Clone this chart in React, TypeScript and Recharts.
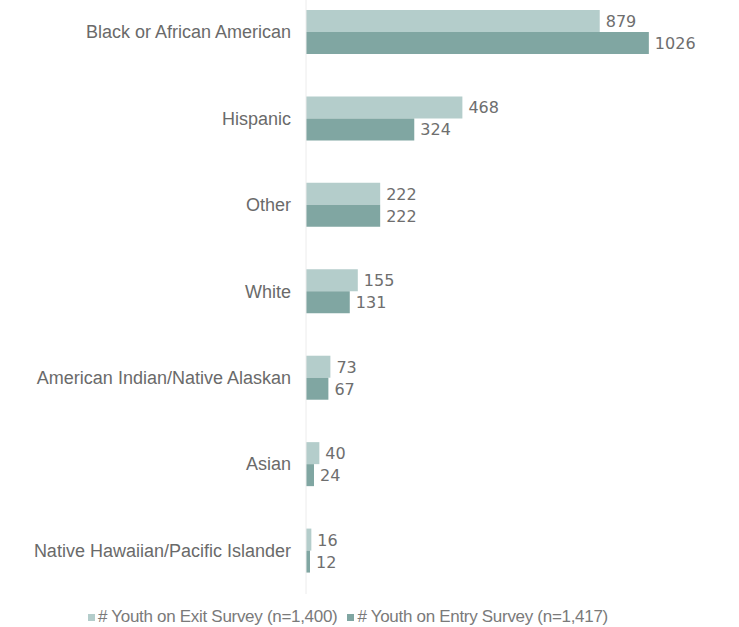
import React from "react";
import { BarChart, Bar, XAxis, YAxis, LabelList } from "recharts";

const CATEGORIES = [
  "Black or African American",
  "Hispanic",
  "Other",
  "White",
  "American Indian/Native Alaskan",
  "Asian",
  "Native Hawaiian/Pacific Islander",
];
const EXIT_VALUES = [879, 468, 222, 155, 73, 40, 16];
const ENTRY_VALUES = [1026, 324, 222, 131, 67, 24, 12];
const SERIES_NAMES = [
  "# Youth on Exit Survey (n=1,400)",
  "# Youth on Entry Survey (n=1,417)",
];

const EXIT_COLOR = "#b4cdcb";
const ENTRY_COLOR = "#80a6a2";
const LABEL_COLOR = "#6a6a6a";

const data = CATEGORIES.map((name, i) => ({
  name,
  exit: EXIT_VALUES[i],
  entry: ENTRY_VALUES[i],
}));

const CategoryTick = (props: any) => {
  const { x, y, payload } = props;
  return (
    <text
      x={x - 7}
      y={y}
      dy={6}
      textAnchor="end"
      fill={LABEL_COLOR}
      fontFamily="'Liberation Sans', Arial, sans-serif"
      fontSize={18}
    >
      {payload.value}
    </text>
  );
};

const ValueLabel = (props: any) => {
  const { x, y, width, height, value } = props;
  return (
    <text
      x={x + width + 6}
      y={y + height / 2}
      dy={6}
      textAnchor="start"
      fill="#6e6e6e"
      fontFamily="'DejaVu Sans', sans-serif"
      fontSize={16}
    >
      {value}
    </text>
  );
};

const ChartLegend = () => (
  <div
    style={{
      position: "absolute",
      left: 88,
      top: 607,
      display: "flex",
      alignItems: "center",
      gap: 10,
      fontFamily: "'Liberation Sans', Arial, sans-serif",
      fontSize: 17,
      letterSpacing: -0.3,
      color: "#7a7a7a",
      whiteSpace: "nowrap",
    }}
  >
    {SERIES_NAMES.map((s, i) => (
      <span key={s} style={{ display: "inline-flex", alignItems: "center" }}>
        <span
          style={{
            display: "inline-block",
            width: 7,
            height: 7,
            marginRight: 3,
            background: i === 0 ? EXIT_COLOR : ENTRY_COLOR,
          }}
        />
        {s}
      </span>
    ))}
  </div>
);

export default function App() {
  return (
    <div
      style={{
        position: "relative",
        width: 739,
        height: 627,
        background: "#fff",
        overflow: "hidden",
      }}
    >
      <style>{`body{margin:0;}`}</style>
      <BarChart
        width={739}
        height={627}
        layout="vertical"
        data={data}
        margin={{ top: -11, right: 32, left: 0, bottom: 33 }}
        barCategoryGap={21}
        barGap={0}
      >
        <XAxis type="number" domain={[0, 1200]} hide />
        <YAxis
          type="category"
          dataKey="name"
          width={306}
          tickLine={false}
          axisLine={{ stroke: "#ececec" }}
          interval={0}
          tick={<CategoryTick />}
        />
        <Bar dataKey="exit" name={SERIES_NAMES[0]} fill={EXIT_COLOR} isAnimationActive={false}>
          <LabelList dataKey="exit" content={<ValueLabel />} />
        </Bar>
        <Bar dataKey="entry" name={SERIES_NAMES[1]} fill={ENTRY_COLOR} isAnimationActive={false}>
          <LabelList dataKey="entry" content={<ValueLabel />} />
        </Bar>
      </BarChart>
      <ChartLegend />
    </div>
  );
}
